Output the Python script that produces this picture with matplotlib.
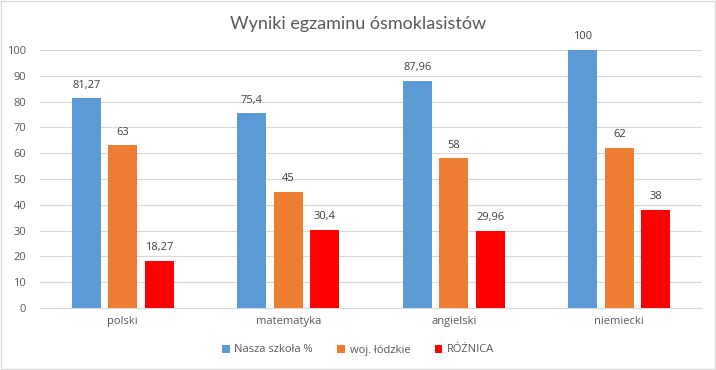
import numpy as np
import matplotlib.pyplot as plt

categories = ['polski', 'matematyka', 'angielski', 'niemiecki']
szkola = [81.27, 75.4, 87.96, 100]
wojewodztwo = [63, 45, 58, 62]
roznica = [18.27, 30.4, 29.96, 38]
series_names = ['Nasza szkoła %', 'woj. łódzkie', 'RÓŻNICA']
colors = ['#5b9bd5', '#ed7d31', '#ff0000']

plt.rcParams['font.family'] = ['Open Sans', 'DejaVu Sans']

fig = plt.figure(figsize=(7.16, 3.70), dpi=100)
ax = fig.add_axes([40 / 716, 1 - 308 / 370, 662 / 716, 258 / 370])

x = np.arange(len(categories))
width = 0.175
step = 0.22

for i, (vals, name, c) in enumerate(zip([szkola, wojewodztwo, roznica], series_names, colors)):
    pos = x + (i - 1) * step
    ax.bar(pos, vals, width, color=c, label=name, zorder=3)
    for p, v in zip(pos, vals):
        txt = ('%g' % v).replace('.', ',')
        ax.text(p, v + 3, txt, ha='center', va='bottom', fontsize=8, color='#404040')

ax.set_xlim(-0.5, len(categories) - 0.5)
ax.set_ylim(0, 100)
ax.set_yticks(range(0, 101, 10))
ax.set_xticks(x)
ax.set_xticklabels(categories)
ax.yaxis.grid(True, color='#d9d9d9', linewidth=0.8, zorder=0)
for s in ['top', 'right', 'left']:
    ax.spines[s].set_visible(False)
ax.spines['bottom'].set_color('#d9d9d9')
ax.tick_params(axis='both', length=0, labelsize=8, colors='#595959')
ax.tick_params(axis='y', pad=10)
ax.tick_params(axis='x', pad=6)

fig.text(0.5, 0.935, 'Wyniki egzaminu ósmoklasistów', ha='center', va='center',
         fontsize=13, color='#595959', family=['Lato', 'DejaVu Sans'])

leg = fig.legend(loc='center', bbox_to_anchor=(0.5, 1 - 350 / 370), ncol=3, frameon=False,
                 fontsize=8, handlelength=0.7, handleheight=0.7, columnspacing=2.2, handletextpad=0.4)
for t in leg.get_texts():
    t.set_color('#595959')

border = plt.Rectangle((0.002, 0.002), 0.996, 0.994, transform=fig.transFigure,
                       fill=False, edgecolor='#d9d9d9', linewidth=1)
fig.patches.append(border)

fig.savefig('out.png', dpi=100)
